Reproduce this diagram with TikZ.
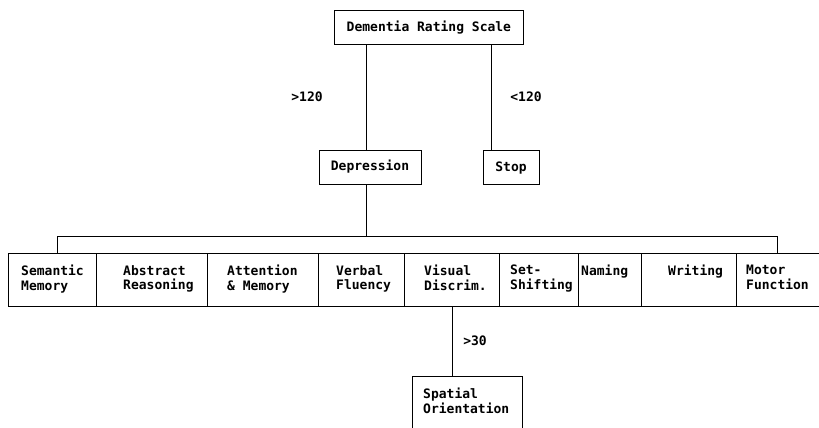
\documentclass[tikz,border=0pt]{standalone}
\usepackage{fontspec}
\newfontfamily\monof{DejaVu Sans Mono}
\begin{document}
\begin{tikzpicture}[x=1pt,y=-1pt,
  box/.style={draw, line width=0.8pt, rectangle, inner sep=0pt, anchor=north west},
  txt/.style={inner sep=0pt, font=\monof\bfseries\fontsize{13}{14.5}\selectfont, align=left},
  conn/.style={line width=0.8pt}]
\useasboundingbox (0,0) rectangle (819,428);
% top
\node[box, minimum width=189, minimum height=34] (drs) at (334,10) {};
\node[txt] (drst) at (drs.center) {Dementia Rating Scale};
\node[box, minimum width=102, minimum height=34] (dep) at (319,150) {};
\node[txt] (dept) at (370,167) {Depression};
\node[box, minimum width=56, minimum height=34] (stop) at (483,150) {};
\node[txt] (stopt) at (511,168) {Stop};
\coordinate (dx) at (366,0);
\coordinate (sx) at (491,0);
\draw[conn] (drs.south -| dx) -- (dep.north -| dx);
\draw[conn] (drs.south -| sx) -- (stop.north -| sx);
\node[txt] (l1) at (307,97) {>120};
\node[txt] (l2) at (526,97) {<120};
% bottom row
\node[box, minimum width=88, minimum height=53] (b1) at (8,253) {};
\node[box, minimum width=111, minimum height=53] (b2) at (96,253) {};
\node[box, minimum width=111, minimum height=53] (b3) at (207,253) {};
\node[box, minimum width=86, minimum height=53] (b4) at (318,253) {};
\node[box, minimum width=95, minimum height=53] (b5) at (404,253) {};
\node[box, minimum width=79, minimum height=53] (b6) at (499,253) {};
\node[box, minimum width=63, minimum height=53] (b7) at (578,253) {};
\node[box, minimum width=95, minimum height=53] (b8) at (641,253) {};
\node[box, minimum width=95, minimum height=53] (b9) at (736,253) {};
\node[txt, anchor=north west] (t1) at (21,265) {Semantic\\Memory};
\node[txt, anchor=north west] (t2) at (123,265) {Abstract\\Reasoning};
\node[txt, anchor=north west] (t3) at (227,265) {Attention\\\& Memory};
\node[txt, anchor=north west] (t4) at (336,265) {Verbal\\Fluency};
\node[txt, anchor=north west] (t5) at (424,265) {Visual\\Discrim.};
\node[txt, anchor=north west] (t6) at (510,265) {Set-\\Shifting};
\node[txt, anchor=north west] (t7) at (581,265) {Naming};
\node[txt, anchor=north west] (t8) at (668,265) {Writing};
\node[txt, anchor=north west] (t9) at (746,265) {Motor\\Function};
% bracket
\coordinate (bl) at (57,236);
\coordinate (br) at (777,236);
\draw[conn] (dep.south -| dx) -- (bl -| dx);
\draw[conn] (b1.north -| bl) -- (bl) -- (br) -- (b9.north -| br);
% spatial
\node[box, minimum width=110, minimum height=70] (sp) at (412,376) {};
\node[txt, anchor=north west] (spt) at (423,388) {Spatial\\Orientation};
\coordinate (vx) at (452,0);
\draw[conn] (b5.south -| vx) -- (sp.north -| vx);
\node[txt] (l3) at (475,341) {>30};
\end{tikzpicture}
\end{document}
